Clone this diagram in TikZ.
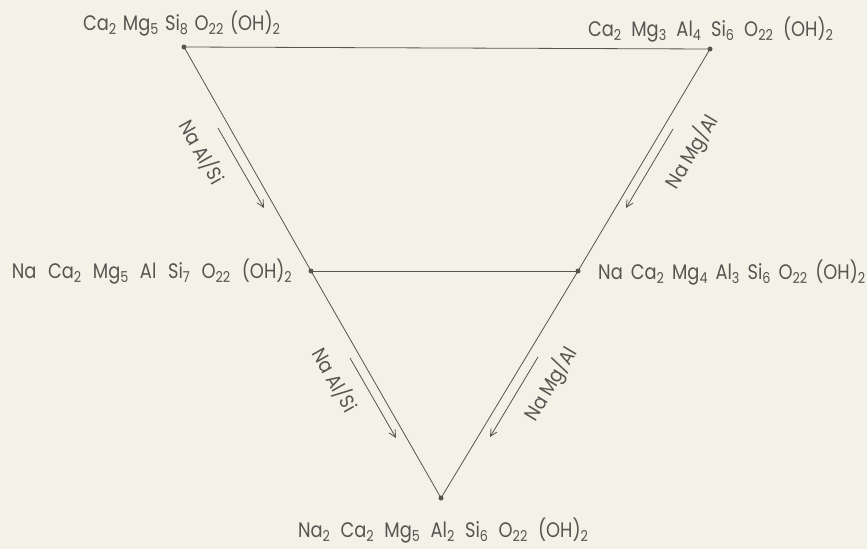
\documentclass[tikz,border=0pt]{standalone}
\usepackage{fontspec}
\usepackage{graphicx}
\setmainfont{Poppins}
\usetikzlibrary{arrows.meta}
\definecolor{bg}{RGB}{244,242,230}
\definecolor{ink}{RGB}{85,85,82}
\newcommand\chsub[1]{\raisebox{-4.5pt}{\fontsize{15}{16}\selectfont #1}}
\newcommand\spread[2]{\scalebox{0.85}[1]{\makebox[\dimexpr #1*100/85\relax][s]{#2}}}
\begin{document}
\begin{tikzpicture}[x=1pt,y=-1pt,
  edge/.style={draw=ink,line width=0.8pt},
  vdot/.style={circle,fill=ink,inner sep=0pt,minimum size=5pt},
  formula/.style={text=ink,font=\fontsize{21}{23}\selectfont,inner sep=0pt},
  exch/.style={text=ink,font=\fontsize{20}{22}\selectfont,inner sep=0pt},
  exarrow/.style={draw=ink,line width=0.8pt,-{Straight Barb[length=7pt,width=7pt]}}]
\fill[bg] (0,0) rectangle (867,549);
\useasboundingbox (0,0) rectangle (867,549);
% vertices
\node[vdot] (A) at (184,47) {};
\node[vdot] (B) at (710,49) {};
\node[vdot] (C) at (441,498) {};
\node[vdot] (M1) at (311,271) {};
\node[vdot] (M2) at (578,271) {};
% edges
\draw[edge] (A.center) -- (B.center);
\draw[edge] (A.center) -- (M1.center) -- (C.center);
\draw[edge] (B.center) -- (M2.center) -- (C.center);
\draw[edge] (M1.center) -- (M2.center);
% formulas
\node[formula,anchor=base] (lA) at (181.5,30) {\spread{197pt}{Ca\chsub{2} Mg\chsub{5} Si\chsub{8} O\chsub{22} (OH)\chsub{2}}};
\node[formula,anchor=base] (lB) at (710.5,36) {\spread{245pt}{Ca\chsub{2} Mg\chsub{3} Al\chsub{4} Si\chsub{6} O\chsub{22} (OH)\chsub{2}}};
\node[formula,anchor=base east] (lM1) at (292,278) {\spread{280pt}{Na Ca\chsub{2} Mg\chsub{5} Al Si\chsub{7} O\chsub{22} (OH)\chsub{2}}};
\node[formula,anchor=base west] (lM2) at (598,279) {\spread{267pt}{Na Ca\chsub{2} Mg\chsub{4} Al\chsub{3} Si\chsub{6} O\chsub{22} (OH)\chsub{2}}};
\node[formula,anchor=base] (lC) at (443,537) {\spread{290pt}{Na\chsub{2} Ca\chsub{2} Mg\chsub{5} Al\chsub{2} Si\chsub{6} O\chsub{22} (OH)\chsub{2}}};
% exchange arrows
\coordinate (a1s) at (218,128); \coordinate (a1e) at (264,208);
\coordinate (a2s) at (350,358); \coordinate (a2e) at (396,438);
\coordinate (b1s) at (673,129); \coordinate (b1e) at (626,208);
\coordinate (b2s) at (538,357); \coordinate (b2e) at (490,437);
\draw[exarrow] (a1s) -- (a1e);
\draw[exarrow] (a2s) -- (a2e);
\draw[exarrow] (b1s) -- (b1e);
\draw[exarrow] (b2s) -- (b2e);
\node[exch,rotate=-60.3] (t1) at (202,152) {\scalebox{0.9}[1]{Na\hspace{5pt}Al/Si}};
\node[exch,rotate=-60.3] (t2) at (335,380) {\scalebox{0.9}[1]{Na\hspace{5pt}Al/Si}};
\node[exch,rotate=59.1] (t3) at (692,152) {\scalebox{0.9}[1]{Na\hspace{5pt}Mg/Al}};
\node[exch,rotate=59.1] (t4) at (551,384) {\scalebox{0.9}[1]{Na\hspace{5pt}Mg/Al}};
\end{tikzpicture}
\end{document}
